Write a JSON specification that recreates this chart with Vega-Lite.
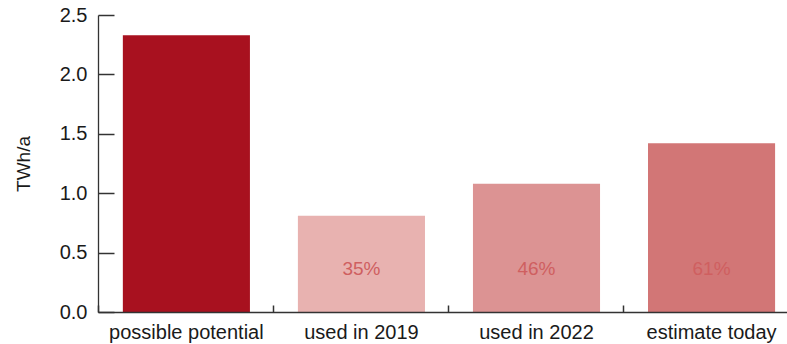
{
  "$schema": "https://vega.github.io/schema/vega-lite/v6.json",
  "autosize": "none",
  "width": 689,
  "height": 297,
  "padding": {"left": 98, "top": 15, "right": 0, "bottom": 32},
  "background": "white",
  "config": {
    "view": {"stroke": null},
    "font": "Liberation Sans"
  },
  "data": {
    "values": [
      {"category": "possible potential", "value": 2.33, "share": ""},
      {"category": "used in 2019", "value": 0.81, "share": "35%"},
      {"category": "used in 2022", "value": 1.08, "share": "46%"},
      {"category": "estimate today", "value": 1.42, "share": "61%"}
    ]
  },
  "resolve": {"axis": {"x": "independent", "y": "independent"}},
  "layer": [
    {
      "mark": {"type": "bar"},
      "encoding": {
        "x": {
          "field": "category",
          "type": "nominal",
          "sort": null,
          "scale": {"paddingInner": 0.274, "paddingOuter": 0.105, "align": 0.676},
          "axis": {
            "orient": "bottom",
            "title": null,
            "labelAngle": 0,
            "labelFontSize": 20,
            "labelColor": "#1a1a1a",
            "labelPadding": 10,
            "labelBaseline": "top",
            "ticks": false,
            "domainColor": "#333",
            "domainWidth": 1.3,
            "grid": false,
            "zindex": 1
          }
        },
        "y": {
          "field": "value",
          "type": "quantitative",
          "scale": {"domain": [0, 2.5], "nice": false},
          "axis": {
            "orient": "left",
            "title": "TWh/a",
            "titleFontSize": 19,
            "titleFontWeight": "normal",
            "titleColor": "#1a1a1a",
            "titlePadding": 26,
            "values": [0, 0.5, 1, 1.5, 2, 2.5],
            "format": ".1f",
            "labelFontSize": 20,
            "labelColor": "#1a1a1a",
            "labelPadding": 11,
            "ticks": false,
            "domainColor": "#333",
            "domainWidth": 1.3,
            "grid": false,
            "zindex": 1
          }
        },
        "color": {
          "field": "category",
          "type": "nominal",
          "legend": null,
          "scale": {
            "domain": ["possible potential", "used in 2019", "used in 2022", "estimate today"],
            "range": ["#A8111F", "#E8B2B0", "#DC9393", "#D27676"]
          }
        }
      }
    },
    {
      "mark": {"type": "text", "fontSize": 19, "color": "#CF5F60", "baseline": "middle"},
      "encoding": {
        "x": {
          "field": "category",
          "type": "nominal",
          "sort": null,
          "axis": {
            "orient": "top",
            "offset": -297,
            "title": null,
            "labels": false,
            "domain": false,
            "ticks": true,
            "bandPosition": -0.189,
            "tickSize": 7,
            "tickWidth": 1.5,
            "tickColor": "#333",
            "grid": false,
            "zindex": 1
          }
        },
        "y": {
          "datum": 0.36,
          "type": "quantitative",
          "axis": {
            "orient": "right",
            "offset": -689,
            "title": null,
            "labels": false,
            "domain": false,
            "ticks": true,
            "values": [0, 0.5, 1, 1.5, 2, 2.5],
            "tickSize": 16,
            "tickWidth": 1.5,
            "tickColor": "#333",
            "grid": false,
            "zindex": 1
          }
        },
        "text": {"field": "share"}
      }
    }
  ]
}
